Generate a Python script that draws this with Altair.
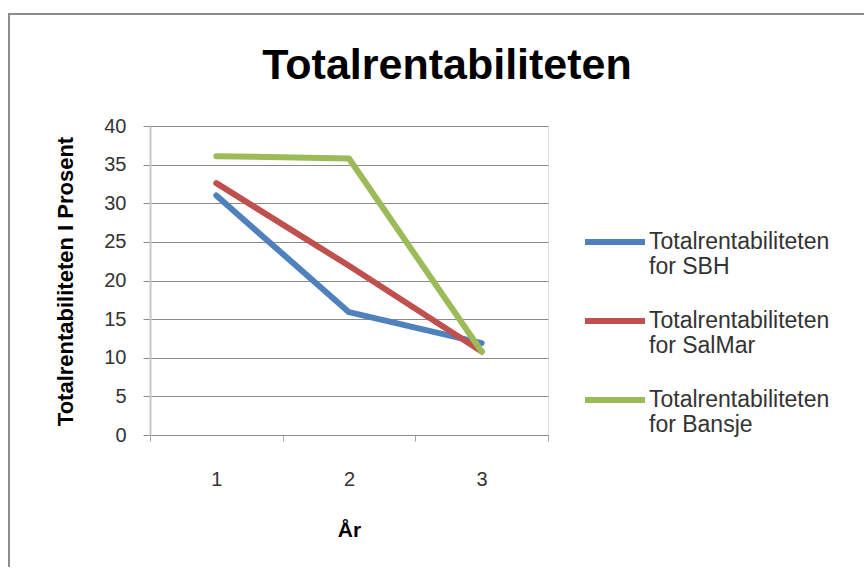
import altair as alt
import pandas as pd

years = ["1", "2", "3"]
series_names = [
    "Totalrentabiliteten for SBH",
    "Totalrentabiliteten for SalMar",
    "Totalrentabiliteten for Bansje",
]
sbh = [31.0, 15.9, 11.9]
salmar = [32.6, 21.9, 10.8]
bansje = [36.1, 35.8, 10.8]
colors = ["#4F81BD", "#C0504D", "#9BBB59"]

rows = []
for name, vals in zip(series_names, [sbh, salmar, bansje]):
    for y, v in zip(years, vals):
        rows.append({"År": y, "Serie": name, "Verdi": v})
df = pd.DataFrame(rows)

FONT = "Liberation Sans"
GRID = "#8a8a8a"

lines = alt.Chart(df).mark_line(strokeWidth=6, strokeCap="round", strokeJoin="round").encode(
    x=alt.X(
        "År:O",
        sort=years,
        bandPosition=0.5,
        scale=alt.Scale(type="band", paddingInner=0, paddingOuter=0),
        axis=alt.Axis(
            title="År",
            labelAngle=0,
            tickBand="extent",
            tickSize=6,
            tickColor="#a6a6a6",
            domainColor=GRID,
            labelPadding=28,
            labelFont=FONT,
            labelFontSize=20,
            labelColor="#333333",
            titleFont=FONT,
            titleFontSize=21,
            titleFontWeight="bold",
            titleColor="#000000",
            titleY=95,
            titleBaseline="middle",
            grid=False,
        ),
    ),
    y=alt.Y(
        "Verdi:Q",
        scale=alt.Scale(domain=[0, 40], nice=False),
        axis=alt.Axis(
            title="Totalrentabiliteten I Prosent",
            values=[0, 5, 10, 15, 20, 25, 30, 35, 40],
            grid=True,
            gridColor=GRID,
            gridWidth=1,
            tickColor=GRID,
            tickSize=7,
            domainColor="#c8c8c8",
            domainWidth=2,
            labelPadding=17,
            labelFont=FONT,
            labelFontSize=20,
            labelColor="#333333",
            titleFont=FONT,
            titleFontSize=22,
            titleFontWeight="bold",
            titleColor="#000000",
            titleX=-85,
            titleY=155,
            titleAngle=-90,
            titleAlign="center",
            titleBaseline="middle",
        ),
    ),
    color=alt.Color(
        "Serie:N",
        sort=series_names,
        scale=alt.Scale(domain=series_names, range=colors),
        legend=alt.Legend(
            title=None,
            orient="none",
            legendX=432,
            legendY=83,
            symbolType="stroke",
            symbolSize=3600,
            symbolStrokeWidth=6,
            labelOffset=1,
            labelFont=FONT,
            labelFontSize=23,
            labelColor="#333333",
            labelLimit=400,
            rowPadding=9,
            labelExpr="split(replace(datum.label, 'Totalrentabiliteten ', 'Totalrentabiliteten|'), '|')",
        ),
    ),
)

border = alt.Chart(pd.DataFrame({"a": [0]})).mark_rect(
    fill=None, stroke="#8c8c8c", strokeWidth=2
).encode(
    x=alt.value(-141), x2=alt.value(760), y=alt.value(-112), y2=alt.value(500)
)

chart = alt.layer(border, lines).properties(
    width=398,
    height=309,
    title=alt.TitleParams(
        "Totalrentabiliteten",
        font=FONT,
        fontSize=43,
        fontWeight="bold",
        color="#000000",
        anchor="middle",
        baseline="alphabetic",
        dx=98,
        offset=-109,
    ),
    autosize=alt.AutoSizeParams(type="none"),
    padding={"left": 150, "top": 126, "right": 316, "bottom": 132},
).configure_view(stroke=None).configure(background="white")

chart.save("out.html", embed_options={"renderer": "svg", "actions": False})
